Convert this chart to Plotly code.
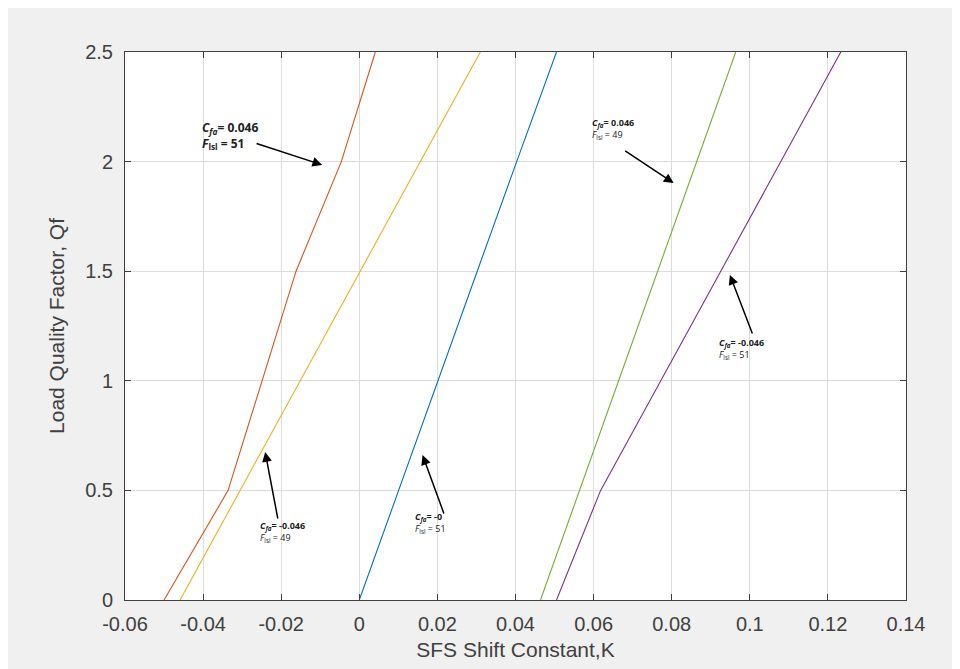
import plotly.graph_objects as go

# Data
qf = [0, 0.5, 1.0, 1.5, 2.0, 2.5]
k_orange = [-0.0500, -0.0336, -0.0249, -0.0162, -0.0046, 0.0041]
k_yellow = [-0.0459, -0.0305, -0.0151, 0.0003, 0.0156, 0.0310]
k_blue = [0.0000, 0.0100, 0.0200, 0.0302, 0.0403, 0.0505]
k_green = [0.0464, 0.0564, 0.0664, 0.0764, 0.0864, 0.0964]
k_purple = [0.0505, 0.0618, 0.0772, 0.0926, 0.1079, 0.1233]

series = [
    (k_orange, "#D95319"),
    (k_yellow, "#EDB120"),
    (k_blue, "#0072BD"),
    (k_green, "#77AC30"),
    (k_purple, "#7E2F8E"),
]

x_ticks = [-0.06, -0.04, -0.02, 0, 0.02, 0.04, 0.06, 0.08, 0.1, 0.12, 0.14]
x_tick_text = ["-0.06", "-0.04", "-0.02", "0", "0.02", "0.04", "0.06", "0.08", "0.1", "0.12", "0.14"]
y_ticks = [0, 0.5, 1, 1.5, 2, 2.5]
y_tick_text = ["0", "0.5", "1", "1.5", "2", "2.5"]

# annotations: (C value, F value, text x, text y, head x, head y, tail x, tail y, size, bold F)
notes = [
    ("0.046", "51", -0.0408, 2.12, -0.0095, 1.985, -0.0267, 2.085, 12, True),
    ("-0.046", "49", -0.0259, 0.31, -0.0241, 0.675, -0.0208, 0.365, 9, False),
    ("-0", "51", 0.0138, 0.35, 0.0162, 0.661, 0.0218, 0.388, 9, False),
    ("0.046", "49", 0.0592, 2.149, 0.0805, 1.902, 0.0677, 2.053, 9, False),
    ("-0.046", "51", 0.0915, 1.145, 0.0949, 1.483, 0.1008, 1.209, 9, False),
]

fig = go.Figure()
for k, c in series:
    fig.add_trace(go.Scatter(x=k, y=qf, mode="lines", line=dict(color=c, width=1.1),
                             showlegend=False, hoverinfo="skip"))

for cval, fval, tx, ty, hx, hy, ax_, ay_, sz, fb in notes:
    fline = f"<i>F</i><sub>lsl</sub> = {fval}"
    if fb:
        fline = f"<b>{fline}</b>"
    fig.add_annotation(x=tx, y=ty, xref="x", yref="y", showarrow=False, align="left",
                       xanchor="left", yanchor="middle",
                       text=f"<b><i>C</i><sub><i>fa</i></sub>= {cval}</b><br>{fline}",
                       font=dict(family="Open Sans, sans-serif", size=sz, color="#222"))
    fig.add_annotation(x=hx, y=hy, ax=ax_, ay=ay_, xref="x", yref="y", axref="x", ayref="y",
                       showarrow=True, arrowhead=2, arrowsize=1.3, arrowwidth=1.5,
                       arrowcolor="black", text="")

tickfont = dict(family="Liberation Sans, Arial, sans-serif", size=20, color="#404040")
titlefont = dict(family="Liberation Sans, Arial, sans-serif", size=21, color="#404040")
axis_common = dict(showgrid=True, gridcolor="#dcdcdc", gridwidth=1, showline=True,
                   linecolor="#404040", linewidth=1, mirror="allticks", ticks="inside",
                   ticklen=6, tickcolor="#404040", zeroline=False, tickfont=tickfont)

fig.update_xaxes(range=[-0.06, 0.14], tickvals=x_ticks, ticktext=x_tick_text,
                 ticklabelstandoff=6,
                 title=dict(text="SFS Shift Constant,K", standoff=8, font=titlefont),
                 **axis_common)
fig.update_yaxes(range=[0, 2.5], tickvals=y_ticks, ticktext=y_tick_text,
                 ticklabelstandoff=7,
                 title=dict(text="Load Quality Factor, Qf", standoff=14, font=titlefont),
                 **axis_common)

fig.update_layout(width=960, height=669, paper_bgcolor="#f0f0f0", plot_bgcolor="white",
                  margin=dict(l=117, r=62, t=44, b=77))

fig.write_html("out.html")
